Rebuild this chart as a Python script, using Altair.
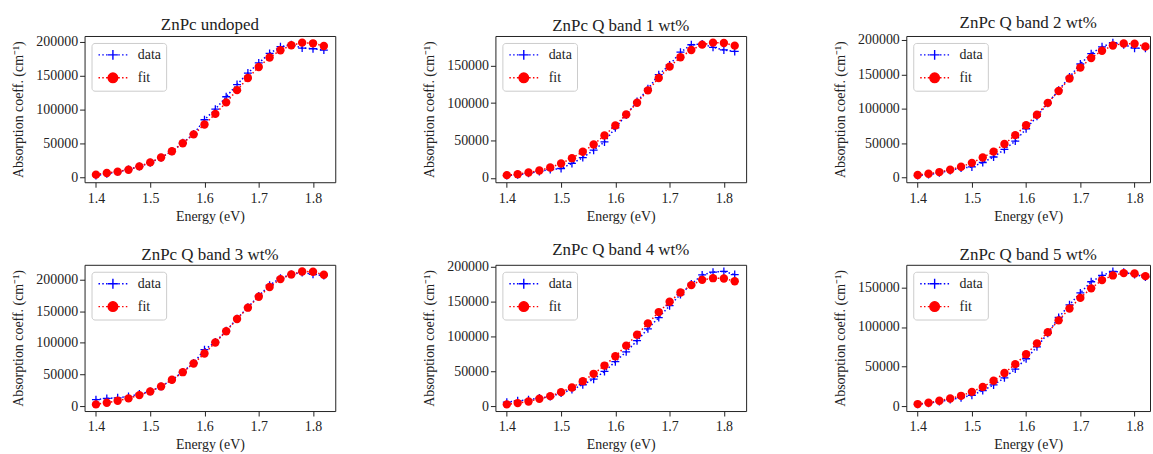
import altair as alt
import pandas as pd

energy = [1.40, 1.42, 1.44, 1.46, 1.48, 1.50, 1.52, 1.54, 1.56, 1.58, 1.60,
          1.62, 1.64, 1.66, 1.68, 1.70, 1.72, 1.74, 1.76, 1.78, 1.80, 1.82]

titles = ["ZnPc undoped", "ZnPc Q band 1 wt%", "ZnPc Q band 2 wt%",
          "ZnPc Q band 3 wt%", "ZnPc Q band 4 wt%", "ZnPc Q band 5 wt%"]

fit_undoped = [3900, 6300, 8300, 11200, 16100, 22000, 29300, 38500, 50200, 63400, 78000,
               93700, 110700, 128800, 146800, 163000, 177100, 187800, 195100, 199000, 198000, 194100]
data_undoped = [2500, 5000, 8000, 11500, 16000, 21500, 29000, 38500, 51000, 64000, 85000,
                100700, 119000, 137000, 154000, 169000, 183000, 193000, 196000, 191000, 190000, 188000]

fit_q1 = [3600, 4900, 7100, 9800, 13800, 19200, 26300, 34800, 44600, 56700, 70100,
          84800, 100400, 117000, 133500, 148700, 161200, 171000, 178100, 180800, 180300, 176800]
data_q1 = [3000, 4000, 6000, 8500, 11000, 12500, 19300, 27000, 37000, 48000, 67000,
           84000, 102000, 119000, 138000, 151000, 168000, 178000, 179000, 174500, 171000, 169000]

fit_q2 = [3800, 5700, 8100, 11500, 15800, 21500, 29200, 37800, 48800, 61700, 76100,
          91400, 108600, 125800, 144000, 159800, 173700, 184200, 191900, 194700, 194300, 190400]
data_q2 = [3000, 4500, 7000, 10500, 14000, 15500, 22000, 30000, 41000, 53000, 71000,
           89000, 108000, 127000, 146000, 165000, 180000, 190000, 196000, 193000, 188000, 188000]

fit_q3 = [2600, 5200, 8400, 12100, 17300, 23100, 31000, 41500, 53500, 67200, 83000,
          100300, 118100, 137500, 155400, 172700, 188000, 200500, 207900, 212600, 212100, 207400]
data_q3 = [10000, 12000, 13000, 15000, 19000, 23000, 31000, 41000, 54000, 68000, 89000,
           101000, 119000, 138000, 156000, 174000, 191000, 202000, 208000, 211000, 208000, 206000]

fit_q4 = [2900, 4800, 7100, 10900, 14700, 20400, 27100, 36100, 46600, 58400, 71700,
          86900, 102600, 118800, 134900, 149600, 162900, 173400, 181000, 183400, 182900, 179000]
data_q4 = [6000, 8000, 9500, 12000, 14000, 19000, 24000, 31000, 39000, 50000, 64000,
           78000, 94000, 111000, 127000, 144000, 160000, 175000, 188000, 192000, 193000, 188500]

fit_q5 = [2900, 4600, 7100, 10000, 13300, 18300, 24500, 32400, 42000, 53200, 65600,
          79400, 93500, 108400, 123400, 136700, 148700, 159100, 165000, 167900, 167400, 164100]
data_q5 = [2500, 4000, 6000, 8500, 11000, 14000, 20000, 27000, 36000, 47000, 60000,
           75000, 92000, 112000, 128000, 143000, 157000, 165000, 170000, 169000, 166000, 163000]

fits = [fit_undoped, fit_q1, fit_q2, fit_q3, fit_q4, fit_q5]
datas = [data_undoped, data_q1, data_q2, data_q3, data_q4, data_q5]

series = ["data", "fit"]
x_ticks = [1.4, 1.5, 1.6, 1.7, 1.8]
y_ticks = [0, 50000, 100000, 150000, 200000]

FONT = "Liberation Serif"
TXT = "#222222"
BLUE = "#0000ff"
RED = "#ff0000"

# legend symbols (unit = 5 px): dotted line with the marker in the middle
dots = "M-2.9,0h0.3M-2.14,0h0.3M-1.38,0h0.3M1.08,0h0.3M1.84,0h0.3M2.6,0h0.3"
sym_data = dots + "M-1,0h2M0,-1v2"
sym_fit = dots + "M-0.96,0a0.96,0.96 0 1,0 1.92,0a0.96,0.96 0 1,0 -1.92,0Z"
plus_path = "M-1,0L1,0M0,-1L0,1"

PW, PH = 252, 147


def panel(title, fit, data, width=PW, xmax=1.841):
    df = pd.DataFrame({"energy": energy, "data": data, "fit": fit})
    lo = min(min(fit), min(data))
    hi = max(max(fit), max(data))
    pad = 0.05 * (hi - lo)
    ydom = [lo - pad, hi + pad]
    yvals = [t for t in y_ticks if ydom[0] <= t <= ydom[1]]
    xenc = alt.X("energy:Q",
                 scale=alt.Scale(domain=[1.379, xmax], nice=False, zero=False),
                 axis=alt.Axis(values=x_ticks, format=".1f", title="Energy (eV)",
                               labelFont=FONT, titleFont=FONT, labelPadding=4, titlePadding=4))
    yscale = alt.Scale(domain=ydom, nice=False, zero=False)
    yaxis = alt.Axis(values=yvals, format="d", title="Absorption coeff. (cm⁻¹)",
                     labelFont=FONT, titleFont=FONT, labelPadding=2, titlePadding=10)
    yd = alt.Y("data:Q", scale=yscale, axis=yaxis)
    yf = alt.Y("fit:Q", scale=yscale, axis=yaxis)
    base = alt.Chart(df)
    data_line = base.mark_line(color=BLUE, strokeWidth=1.5, strokeDash=[1.5, 2.3]).encode(x=xenc, y=yd)
    data_pts = base.mark_point(shape=plus_path, filled=False, color=BLUE, size=64,
                               strokeWidth=1.3, opacity=1).encode(x=xenc, y=yd)
    fit_line = base.mark_line(color=RED, strokeWidth=1.5, strokeDash=[1.5, 2.3]).encode(x=xenc, y=yf)
    fit_pts = base.mark_circle(color=RED, size=71, opacity=1).encode(x=xenc, y=yf)

    leg = alt.Legend(title=None, orient="top-left", offset=7, labelFont=FONT, labelFontSize=14,
                     labelColor=TXT, padding=5, rowPadding=7, labelOffset=18,
                     symbolOffset=9.5, symbolSize=100, symbolStrokeWidth=1.4,
                     strokeColor="#cccccc", fillColor="rgba(255,255,255,0.8)", cornerRadius=3)
    legend_layer = base.mark_point(filled=True, opacity=1, size=100, strokeWidth=1.4).encode(
        fill=alt.Fill("series:N", scale=alt.Scale(domain=series, range=[BLUE, RED]), legend=leg),
        stroke=alt.Stroke("series:N", scale=alt.Scale(domain=series, range=[BLUE, RED]), legend=leg),
        shape=alt.Shape("series:N", scale=alt.Scale(domain=series, range=[sym_data, sym_fit]), legend=leg),
    ).transform_calculate(series="'data'").transform_filter("false")

    return alt.layer(data_line, data_pts, fit_line, fit_pts, legend_layer).properties(
        width=width, height=PH,
        title=alt.TitleParams(title, frame="group", anchor="middle", offset=1,
                              font=FONT, fontSize=17, fontWeight="normal", color=TXT),
    )


def row(charts):
    return alt.hconcat(*charts, spacing=86).resolve_scale(
        fill="independent", stroke="independent", shape="independent")


p = [panel(titles[i], fits[i], datas[i]) for i in range(6)]
p[2] = panel(titles[2], fits[2], datas[2], width=245, xmax=1.8285)
p[5] = panel(titles[5], fits[5], datas[5], width=245, xmax=1.8285)

chart = alt.vconcat(row(p[0:3]), row(p[3:6]), spacing=16).resolve_scale(
    fill="independent", stroke="independent", shape="independent"
).properties(
    padding={"left": 11, "top": 12, "right": 0, "bottom": 0}
).configure_view(
    stroke=TXT, strokeWidth=1
).configure_axis(
    domain=False, grid=False, tickColor=TXT, tickWidth=1, tickSize=5,
    labelFont=FONT, labelFontSize=14, labelColor=TXT,
    titleFont=FONT, titleFontSize=14, titleFontWeight="normal", titleColor=TXT
).configure_legend(
    labelFont=FONT
).configure_title(
    font=FONT, fontSize=17, fontWeight="normal", color=TXT
)

chart.save("out.html", embed_options={"renderer": "svg", "actions": False})
